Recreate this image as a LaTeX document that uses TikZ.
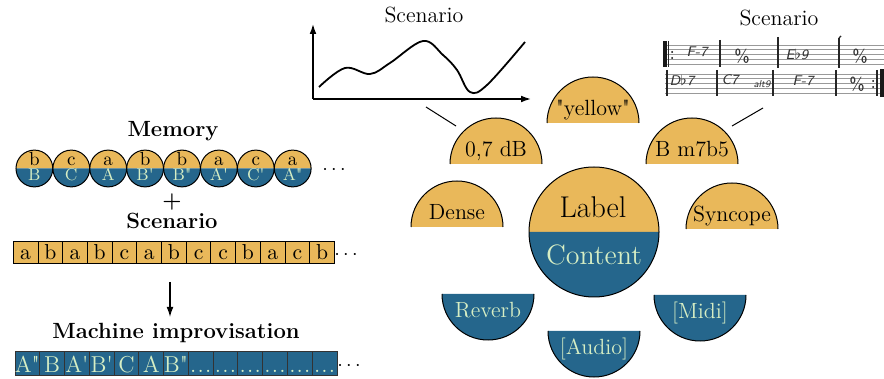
\documentclass[tikz,border=0pt]{standalone}
\usetikzlibrary{arrows.meta}
\definecolor{lbl}{RGB}{233,184,90}
\definecolor{cnt}{RGB}{37,102,140}
\definecolor{pale}{RGB}{214,238,196}
\newcommand{\dq}{\textquotedbl}
\newcommand{\sq}{\textquotesingle}
\newcommand{\bdots}{.\kern0.6pt.\kern0.6pt.}
\begin{document}
\begin{tikzpicture}[x=0.5pt,y=-0.5pt,
  outl/.style={line width=0.5pt, draw=black},
  boldlbl/.style={font=\fontsize{11}{13}\selectfont\bfseries, inner sep=0, anchor=base},
  btxt/.style={font=\fontsize{11}{13}\selectfont, inner sep=0, anchor=base},
  ctop/.style={font=\fontsize{9.5}{10}\selectfont, inner sep=0, anchor=base},
  cbot/.style={font=\fontsize{8.5}{9}\selectfont, text=pale, inner sep=0, anchor=base},
  stxt/.style={font=\fontsize{10.8}{12}\selectfont, inner sep=0, anchor=base},
  itxt/.style={font=\fontsize{11.5}{13}\selectfont, text=pale, inner sep=0, anchor=base},
  chord/.style={font=\fontsize{7}{8}\selectfont\sffamily\slshape, text=black!80, inner sep=0},
  staff/.style={draw=black!40, line width=0.35pt},
  bar/.style={draw=black!85, line width=0.7pt},
  conn/.style={draw=black, line width=0.5pt}]
\useasboundingbox (0,0) rectangle (884,379);

% ---------------- Left: memory ----------------
\node[boldlbl] (memlbl) at (173,136.5) {Memory};
\foreach \t/\b [count=\i from 0] in {b/B,c/C,a/A,b/B\sq,b/B\dq,a/A\sq,c/C\sq,a/A\dq} {
  \pgfmathsetmacro\cx{34.4+36.9*\i}
  \fill[lbl] (\cx-18.4,168.5) arc[start angle=180,end angle=360,radius=18.4] -- cycle;
  \fill[cnt] (\cx-18.4,168.5) arc[start angle=180,end angle=0,radius=18.4] -- cycle;
  \draw[outl] (\cx,168.5) circle[radius=18.4];
  \node[ctop] (mt\i) at (\cx,165.5) {\t};
  \node[cbot] (mb\i) at (\cx,181) {\b};
}
\node[inner sep=0] (memdots) at (334,170) {$\cdots$};
\node[font=\fontsize{11}{13}\selectfont\bfseries, inner sep=0] (plus) at (172,202) {+};
\node[boldlbl] (scenlbl) at (172,229) {Scenario};

% scenario boxes
\foreach \t [count=\i from 0] in {a,b,a,b,c,a,b,c,c,b,a,c,b} {
  \pgfmathsetmacro\bx{13.3+24.7*\i}
  \draw[outl, fill=lbl] (\bx,242) rectangle (\bx+24.7,263.5);
  \node[stxt] (s\i) at (\bx+12.35,260) {\t};
}
\node[inner sep=0] (scendots) at (346,255) {$\cdots$};

% arrow
\coordinate (arrtop) at (170,282);
\coordinate (arrbot) at (170,317);
\draw[line width=0.6pt, -{Latex[length=5pt,width=3.4pt]}] (arrtop) -- (arrbot);

\node[boldlbl] (improlbl) at (176,338.5) {Machine improvisation};
\foreach \t [count=\i from 0] in {A\dq,B,A\sq,B\sq,C,A,B\dq,\bdots,\bdots,\bdots,\bdots,\bdots,\bdots} {
  \pgfmathsetmacro\bx{15+24.77*\i}
  \draw[draw=black!80, line width=0.5pt, fill=cnt] (\bx,352) rectangle (\bx+24.77,376);
  \node[itxt] (im\i) at (\bx+12.38,372) {\t};
}
\node[inner sep=0] (improdots) at (349,366) {$\cdots$};

% ---------------- Plot scenario ----------------
\node[btxt] (plottitle) at (424,23) {Scenario};
\coordinate (orig) at (313,99);
\coordinate (ytip) at (313,24);
\coordinate (xtip) at (531,99);
\draw[line width=0.7pt, -{Latex[length=5pt,width=3.4pt]}] (orig) -- (ytip);
\draw[line width=0.7pt, -{Latex[length=5pt,width=3.4pt]}] (orig) -- (xtip);
\draw[line width=0.9pt, line join=round] plot[smooth, tension=0.6] coordinates
  {(319,87) (345,68) (370,74) (390,63) (423,41) (443,55) (457,70) (470,92) (487,85) (525,42)};

% ---------------- Score scenario ----------------
\node[btxt] (scoretitle) at (779,26) {Scenario};
\foreach \k in {0,...,4} {
  \draw[staff] (663,45+4.75*\k) -- (884,45+4.75*\k);
  \draw[staff] (665,74+4.75*\k) -- (882,74+4.75*\k);
}
% row 1 bars
\fill[black!90] (663,41) rectangle (666.5,67);
\draw[bar] (668.5,41) -- (668.5,67);
\fill (672,52) circle[radius=1]; \fill (672,58) circle[radius=1];
\draw[bar] (720,40) -- (720,67);
\draw[bar, line width=1pt] (778,37) -- (778,68);
\draw[bar, line width=1pt] (839,38) -- (839,68);
\draw[bar] (839,38) -- (841,36);
% row 2 bars
\draw[bar, line width=1pt] (667,70) -- (667,96);
\draw[bar] (717,70) -- (717,96);
\draw[bar] (773,70) -- (773,96);
\draw[bar] (836,70) -- (836,96);
\draw[bar] (877,70) -- (877,96);
\fill[black!90] (879.5,69) rectangle (883.5,97);
\fill (873,81) circle[radius=1]; \fill (873,87) circle[radius=1];
% chords
\node[chord] (c1) at (697,52) {F-7};
\node[chord, font=\fontsize{9}{9}\selectfont\sffamily] (c2) at (742,56) {\%};
\node[chord] (c3) at (797,54) {E$\flat$9};
\node[chord, font=\fontsize{9}{9}\selectfont\sffamily] (c4) at (860,56) {\%};
\node[chord] (c5) at (682,80) {D$\flat$7};
\node[chord] (c6) at (730,80) {C7};
\node[chord, font=\fontsize{5}{6}\selectfont\sffamily\slshape] (c7) at (762,84) {alt9};
\node[chord] (c8) at (803,81) {F-7};
\node[chord, font=\fontsize{9}{9}\selectfont\sffamily] (c9) at (857,84) {\%};

% ---------------- Bubbles ----------------
% big circle
\fill[lbl] (529,232) arc[start angle=180,end angle=360,radius=65] -- cycle;
\fill[cnt] (529,232) arc[start angle=180,end angle=0,radius=65] -- cycle;
\draw[outl] (594,232) circle[radius=65];
\node[inner sep=0, anchor=base, font=\fontsize{15}{17}\selectfont] (label) at (593,218) {Label};
\node[inner sep=0, anchor=base, font=\fontsize{14}{16}\selectfont, text=pale] (content) at (594,265) {Content};

% label halves
\foreach \cx/\cy/\t/\nm in {496/164/{0,7 dB}/bdb, 593/123/{\dq yellow\dq}/byel, 692/164/{B m7b5}/bchd, 457/227/{Dense}/bden, 732/229/{Syncope}/bsyn} {
  \fill[lbl] (\cx-46,\cy) arc[start angle=180,end angle=360,radius=46] -- cycle;
  \draw[outl] (\cx-46,\cy) arc[start angle=180,end angle=360,radius=46];
  \node[btxt] (\nm) at (\cx,\cy-7.5) {\t};
}
% content halves
\foreach \cx/\cy/\t/\nm in {488/294/{Reverb}/brev, 594/331/{[Audio]}/baud, 700/295/{[Midi]}/bmid} {
  \fill[cnt] (\cx-46,\cy) arc[start angle=180,end angle=0,radius=46] -- cycle;
  \draw[outl] (\cx-46,\cy) arc[start angle=180,end angle=0,radius=46];
  \node[btxt, text=pale] (\nm) at (\cx,\cy+24) {\t};
}

% connectors to scenarios
\coordinate (p1) at (426,107);
\coordinate (p2) at (456,126);
\draw[conn] (p1) -- (p2);
\coordinate (q1) at (763,108);
\coordinate (q2) at (732,126);
\draw[conn] (q1) -- (q2);
\end{tikzpicture}
\end{document}
